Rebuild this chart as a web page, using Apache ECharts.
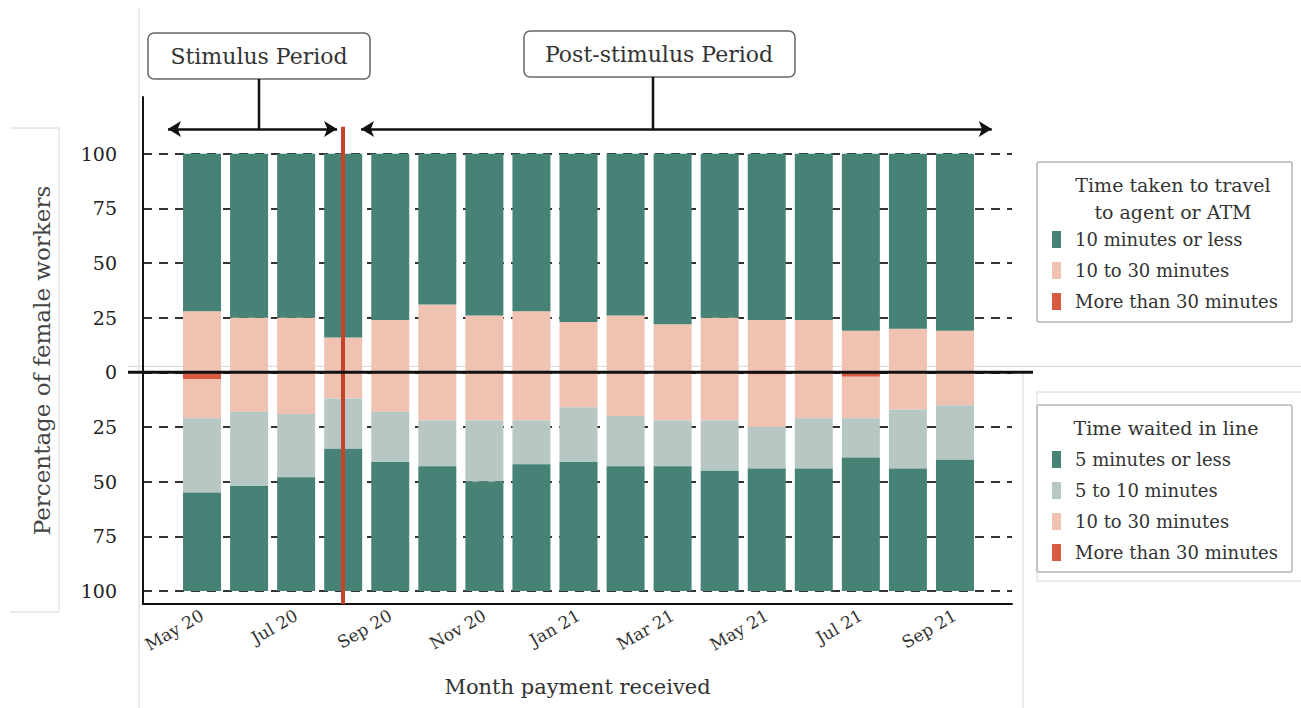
<!DOCTYPE html>
<html>
<head>
<meta charset="utf-8">
<script src="https://cdn.jsdelivr.net/npm/echarts@6/dist/echarts.min.js"></script>
<style>
html, body { margin: 0; padding: 0; background: #fff; }
#chart { width: 1301px; height: 708px; }
</style>
</head>
<body>
<div id="chart"></div>
<script>
const months = ["May 20", "Jun 20", "Jul 20", "Aug 20", "Sep 20", "Oct 20", "Nov 20", "Dec 20", "Jan 21",
  "Feb 21", "Mar 21", "Apr 21", "May 21", "Jun 21", "Jul 21", "Aug 21", "Sep 21"];
const yTicks = [-100, -75, -50, -25, 0, 25, 50, 75, 100];

// time taken to travel to agent or ATM (upper half)
const travelOver30 = [0, 0, 0, 0, 0, 0, 0, 0, 0, 0, 0, 0, 0, 0, 0, 0, 0];
const travel10to30 = [28, 25, 25, 16, 24, 31, 26, 28, 23, 26, 22, 25, 24, 24, 19, 20, 19];
const travelUnder10 = [72, 75, 75, 84, 76, 69, 74, 72, 77, 74, 78, 75, 76, 76, 81, 80, 81];

// time waited in line (lower half)
const waitOver30 = [3, 0, 0, 0, 0, 0, 0, 0, 0, 0, 0, 0, 1, 0, 2, 0, 0];
const wait10to30 = [18, 18, 19, 12, 18, 22, 22, 22, 16, 20, 22, 22, 24, 21, 19, 17, 15];
const wait5to10 = [34, 34, 29, 23, 23, 21, 28, 20, 25, 23, 21, 23, 19, 23, 18, 27, 25];
const waitUnder5 = [45, 48, 52, 65, 59, 57, 50, 58, 59, 57, 57, 55, 56, 56, 61, 56, 60];

const FONT = "DejaVu Serif";
const GREEN = "#468276", PINK = "#EFC2B1", GREY = "#B7C8C4", RED = "#D85A40";

function bar(name, vals, sign, color) {
  return {
    name: name,
    type: "bar",
    xAxisIndex: 1,
    yAxisIndex: 1,
    stack: "all",
    barWidth: 38,
    itemStyle: { color: color },
    data: vals.map(v => sign * v)
  };
}

const series = [
  bar("More than 30 minutes", travelOver30, 1, RED),
  bar("10 to 30 minutes", travel10to30, 1, PINK),
  bar("10 minutes or less", travelUnder10, 1, GREEN),
  bar("More than 30 minutes", waitOver30, -1, RED),
  bar("10 to 30 minutes", wait10to30, -1, PINK),
  bar("5 to 10 minutes", wait5to10, -1, GREY),
  bar("5 minutes or less", waitUnder5, -1, GREEN),
  // stimulus boundary and period arrows, on the frame axes
  {
    type: "line",
    xAxisIndex: 0,
    yAxisIndex: 0,
    data: [],
    z: 5,
    markLine: {
      silent: true,
      symbol: ["arrow", "arrow"],
      symbolSize: [12, 13],
      label: { show: false },
      lineStyle: { color: "#111", width: 2.5, type: "solid" },
      data: [
        [{ coord: [3, 112.4], symbol: "none", lineStyle: { color: "#C4432B", width: 4 } },
         { coord: [3, -106], symbol: "none" }],
        [{ coord: [-0.72, 111.4] }, { coord: [2.87, 111.4] }],
        [{ coord: [3.38, 111.4] }, { coord: [16.77, 111.4] }]
      ]
    }
  }
];

const legendText = { fontFamily: FONT, fontSize: 18, color: "#333", padding: [0, 0, 0, 9] };

const chart = echarts.init(document.getElementById("chart"), null, { renderer: "svg" });

chart.setOption({
  animation: false,
  grid: [
    { left: 143, right: 289, top: 97, bottom: 104, outerBoundsMode: "none" },
    { left: 178.5, right: 322.5, top: 97, bottom: 104, outerBoundsMode: "none" }
  ],
  legend: [
    {
      data: ["10 minutes or less", "10 to 30 minutes", "More than 30 minutes"],
      orient: "vertical", left: 1052, top: 230.5, padding: 0,
      itemWidth: 9, itemHeight: 17, itemGap: 13, selectedMode: false,
      icon: "rect", textStyle: legendText
    },
    {
      data: ["5 minutes or less", "5 to 10 minutes", "10 to 30 minutes", "More than 30 minutes"],
      orient: "vertical", left: 1052, top: 450.5, padding: 0,
      itemWidth: 9, itemHeight: 17, itemGap: 13, selectedMode: false,
      icon: "rect", textStyle: legendText
    }
  ],
  xAxis: [
    {
      gridIndex: 0,
      type: "value",
      min: -1.25,
      max: 17.2,
      name: "Month payment received",
      nameLocation: "middle",
      nameGap: 72,
      nameTextStyle: { fontFamily: FONT, fontSize: 21, color: "#333" },
      axisLine: { onZero: false, lineStyle: { color: "#111", width: 2 } },
      axisTick: { show: false },
      axisLabel: { show: false },
      splitLine: { show: false }
    },
    {
      gridIndex: 1,
      type: "category",
      data: months,
      axisLine: { show: false },
      axisTick: { show: true, interval: 1, alignWithLabel: true, length: 5, lineStyle: { color: "#ccc" } },
      axisLabel: { interval: 1, rotate: 30, margin: 10, fontFamily: FONT, fontSize: 17, color: "#333" },
      splitLine: { show: false }
    }
  ],
  yAxis: [
    {
      gridIndex: 0,
      type: "value",
      min: -106,
      max: 126,
      name: "Percentage of female workers",
      nameLocation: "middle",
      nameGap: 90,
      nameTextStyle: { fontFamily: FONT, fontSize: 23, color: "#444", padding: [0, 20, 0, 0] },
      axisLine: { show: true, onZero: false, lineStyle: { color: "#111", width: 2 } },
      axisTick: { show: false, customValues: yTicks },
      axisLabel: {
        customValues: yTicks,
        margin: 26,
        fontFamily: FONT,
        fontSize: 19,
        color: "#222",
        formatter: v => String(Math.abs(v))
      },
      splitLine: { show: true, lineStyle: { color: "#333", width: 2, type: [9, 7] } }
    },
    {
      gridIndex: 1,
      type: "value",
      min: -106,
      max: 126,
      show: false,
      splitLine: { show: false }
    }
  ],
  series: series
});

// zero line placed from the y scale
const y0 = chart.convertToPixel({ gridIndex: 0 }, [0, 0])[1];
const faint = { stroke: "#d6d6d6", lineWidth: 1 };
const boxText = (text, x, y, size) => ({
  type: "text",
  style: { text: text, x: x, y: y, align: "center", verticalAlign: "middle",
           fontFamily: FONT, fontSize: size, fill: "#333", lineHeight: 27 }
});

chart.setOption({
  graphic: [
    // page frame lines from the source layout
    { type: "line", shape: { x1: 139, y1: 8, x2: 139, y2: 708 }, style: faint },
    { type: "polyline", shape: { points: [[10, 128], [59, 128], [59, 612], [10, 612]] }, style: Object.assign({ fill: null }, faint) },
    { type: "line", shape: { x1: 128, y1: y0 - 6, x2: 1301, y2: y0 - 6 }, style: faint },
    { type: "line", shape: { x1: 1023, y1: y0 - 2, x2: 1023, y2: 708 }, style: faint },
    { type: "polyline", shape: { points: [[1301, 392], [1037, 392], [1037, 581], [1301, 581]] }, style: Object.assign({ fill: null }, faint) },
    // zero line
    { type: "line", z: 10, shape: { x1: 128, y1: y0, x2: 1033, y2: y0 }, style: { stroke: "#111", lineWidth: 3 } },
    // legend boxes and titles
    { type: "rect", shape: { x: 1037, y: 162, width: 255, height: 160, r: 2 }, style: { fill: null, stroke: "#b5b5b5", lineWidth: 1.5 } },
    boxText("Time taken to travel\nto agent or ATM", 1173, 198, 19),
    { type: "rect", shape: { x: 1037, y: 405, width: 255, height: 167, r: 2 }, style: { fill: null, stroke: "#b5b5b5", lineWidth: 1.5 } },
    boxText("Time waited in line", 1166, 428, 19),
    // period annotations
    { type: "rect", shape: { x: 148, y: 33, width: 222, height: 46, r: 6 }, style: { fill: "#fff", stroke: "#666", lineWidth: 1.5 } },
    boxText("Stimulus Period", 259, 56, 22),
    { type: "line", shape: { x1: 259, y1: 79, x2: 259, y2: 129 }, style: { stroke: "#111", lineWidth: 2.5 } },
    { type: "rect", shape: { x: 524, y: 31, width: 271, height: 46, r: 6 }, style: { fill: "#fff", stroke: "#666", lineWidth: 1.5 } },
    boxText("Post-stimulus Period", 659, 54, 22),
    { type: "line", shape: { x1: 653, y1: 77, x2: 653, y2: 129 }, style: { stroke: "#111", lineWidth: 2.5 } }
  ]
});
</script>
</body>
</html>
